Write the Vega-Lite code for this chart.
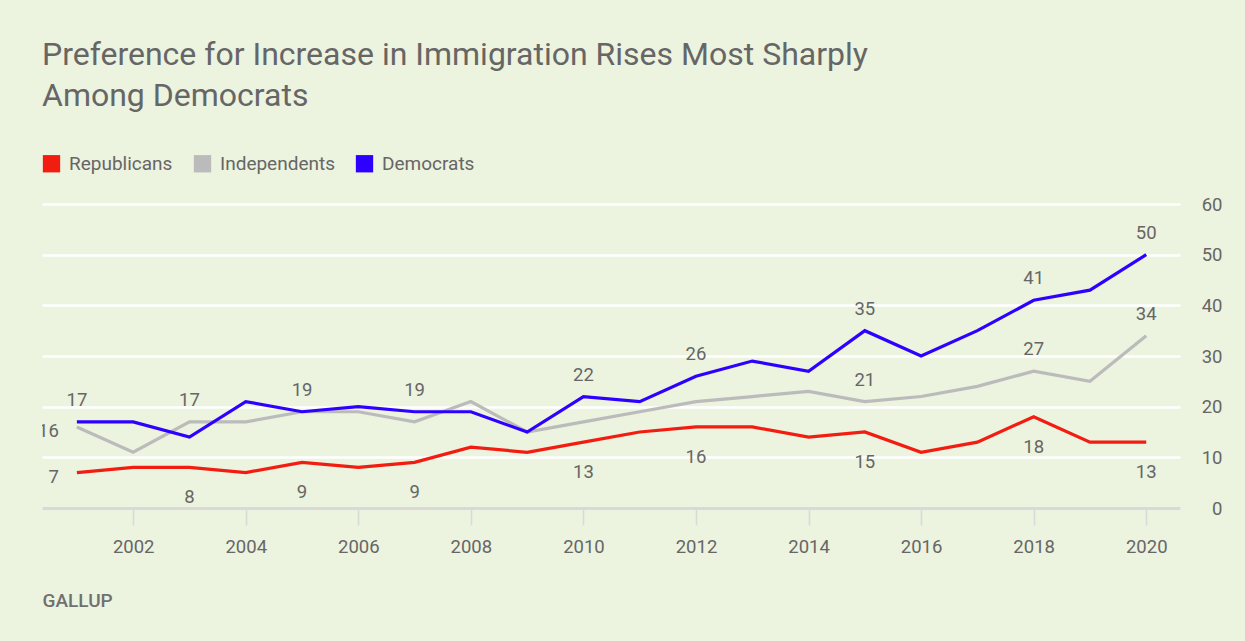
{
  "$schema": "https://vega.github.io/schema/vega-lite/v6.json",
  "autosize": {"type": "none"},
  "width": 1138,
  "height": 304,
  "padding": {"left": 42, "top": 204, "right": 65, "bottom": 133},
  "background": "#ECF3DF",
  "config": {
    "view": {"stroke": null},
    "font": "Roboto",
    "axis": {"labelFont": "Roboto", "labelColor": "#666666", "titleFont": "Roboto"},
    "legend": {"labelFont": "Roboto"}
  },
  "title": {
    "text": ["Preference for Increase in Immigration Rises Most Sharply", "Among Democrats"],
    "anchor": "start",
    "frame": "group",
    "fontSize": 32,
    "fontWeight": "normal",
    "color": "#666666",
    "lineHeight": 41,
    "offset": 41
  },
  "data": {
    "values": [
      {"year": 2001, "party": "Republicans", "pct": 7},
      {"year": 2002, "party": "Republicans", "pct": 8},
      {"year": 2003, "party": "Republicans", "pct": 8},
      {"year": 2004, "party": "Republicans", "pct": 7},
      {"year": 2005, "party": "Republicans", "pct": 9},
      {"year": 2006, "party": "Republicans", "pct": 8},
      {"year": 2007, "party": "Republicans", "pct": 9},
      {"year": 2008, "party": "Republicans", "pct": 12},
      {"year": 2009, "party": "Republicans", "pct": 11},
      {"year": 2010, "party": "Republicans", "pct": 13},
      {"year": 2011, "party": "Republicans", "pct": 15},
      {"year": 2012, "party": "Republicans", "pct": 16},
      {"year": 2013, "party": "Republicans", "pct": 16},
      {"year": 2014, "party": "Republicans", "pct": 14},
      {"year": 2015, "party": "Republicans", "pct": 15},
      {"year": 2016, "party": "Republicans", "pct": 11},
      {"year": 2017, "party": "Republicans", "pct": 13},
      {"year": 2018, "party": "Republicans", "pct": 18},
      {"year": 2019, "party": "Republicans", "pct": 13},
      {"year": 2020, "party": "Republicans", "pct": 13},
      {"year": 2001, "party": "Independents", "pct": 16},
      {"year": 2002, "party": "Independents", "pct": 11},
      {"year": 2003, "party": "Independents", "pct": 17},
      {"year": 2004, "party": "Independents", "pct": 17},
      {"year": 2005, "party": "Independents", "pct": 19},
      {"year": 2006, "party": "Independents", "pct": 19},
      {"year": 2007, "party": "Independents", "pct": 17},
      {"year": 2008, "party": "Independents", "pct": 21},
      {"year": 2009, "party": "Independents", "pct": 15},
      {"year": 2010, "party": "Independents", "pct": 17},
      {"year": 2011, "party": "Independents", "pct": 19},
      {"year": 2012, "party": "Independents", "pct": 21},
      {"year": 2013, "party": "Independents", "pct": 22},
      {"year": 2014, "party": "Independents", "pct": 23},
      {"year": 2015, "party": "Independents", "pct": 21},
      {"year": 2016, "party": "Independents", "pct": 22},
      {"year": 2017, "party": "Independents", "pct": 24},
      {"year": 2018, "party": "Independents", "pct": 27},
      {"year": 2019, "party": "Independents", "pct": 25},
      {"year": 2020, "party": "Independents", "pct": 34},
      {"year": 2001, "party": "Democrats", "pct": 17},
      {"year": 2002, "party": "Democrats", "pct": 17},
      {"year": 2003, "party": "Democrats", "pct": 14},
      {"year": 2004, "party": "Democrats", "pct": 21},
      {"year": 2005, "party": "Democrats", "pct": 19},
      {"year": 2006, "party": "Democrats", "pct": 20},
      {"year": 2007, "party": "Democrats", "pct": 19},
      {"year": 2008, "party": "Democrats", "pct": 19},
      {"year": 2009, "party": "Democrats", "pct": 15},
      {"year": 2010, "party": "Democrats", "pct": 22},
      {"year": 2011, "party": "Democrats", "pct": 21},
      {"year": 2012, "party": "Democrats", "pct": 26},
      {"year": 2013, "party": "Democrats", "pct": 29},
      {"year": 2014, "party": "Democrats", "pct": 27},
      {"year": 2015, "party": "Democrats", "pct": 35},
      {"year": 2016, "party": "Democrats", "pct": 30},
      {"year": 2017, "party": "Democrats", "pct": 35},
      {"year": 2018, "party": "Democrats", "pct": 41},
      {"year": 2019, "party": "Democrats", "pct": 43},
      {"year": 2020, "party": "Democrats", "pct": 50}
    ]
  },
  "encoding": {
    "x": {
      "field": "year",
      "type": "quantitative",
      "scale": {"domain": [2000.38, 2020.6], "nice": false, "zero": false},
      "axis": {
        "values": [2002, 2004, 2006, 2008, 2010, 2012, 2014, 2016, 2018, 2020],
        "format": "d",
        "grid": false,
        "domainColor": "#D9D9D9",
        "domainWidth": 3,
        "tickColor": "#D9D9D9",
        "tickWidth": 1.5,
        "tickSize": 17,
        "labelFontSize": 18.5,
        "labelPadding": 12,
        "zindex": 1,
        "title": "GALLUP",
        "titleAnchor": "start",
        "titleAlign": "left",
        "titleFontSize": 19,
        "titleFontWeight": 500,
        "titleColor": "#707070",
        "titlePadding": 36
      }
    },
    "y": {
      "field": "pct",
      "type": "quantitative",
      "scale": {"domain": [0, 60], "nice": false},
      "axis": {
        "orient": "right",
        "values": [0, 10, 20, 30, 40, 50, 60],
        "title": null,
        "domain": false,
        "ticks": false,
        "gridColor": "#FFFFFF",
        "gridWidth": 2.5,
        "labelAlign": "right",
        "labelBaseline": "middle",
        "labelPadding": 42,
        "labelFontSize": 18.5
      }
    },
    "color": {
      "field": "party",
      "type": "nominal",
      "scale": {
        "domain": ["Republicans", "Independents", "Democrats"],
        "range": ["#F21D10", "#BBBBBB", "#2E00FF"]
      },
      "legend": {
        "title": null,
        "orient": "top",
        "direction": "horizontal",
        "offset": 30,
        "symbolType": "square",
        "symbolSize": 300,
        "symbolStrokeWidth": 0,
        "labelFontSize": 19,
        "labelColor": "#666666",
        "labelOffset": 8,
        "columnPadding": 20,
        "encode": {
          "symbols": {
            "update": {
              "fill": {"scale": "color", "field": "value"},
              "stroke": {"value": "transparent"}
            }
          }
        }
      }
    }
  },
  "layer": [
    {
      "mark": {"type": "line", "strokeWidth": 3.2}
    },
    {
      "transform": [
        {"filter": {"field": "party", "equal": "Democrats"}},
        {"filter": {"field": "year", "oneOf": [2001, 2005, 2007, 2010, 2012, 2015, 2018, 2020]}}
      ],
      "mark": {"type": "text", "fontSize": 18.5, "baseline": "middle", "dy": -22},
      "encoding": {"text": {"field": "pct", "type": "quantitative"}, "color": {"value": "#666666"}}
    },
    {
      "transform": [
        {"filter": {"field": "party", "equal": "Republicans"}},
        {"filter": {"field": "year", "oneOf": [2003, 2005, 2007, 2010, 2012, 2015, 2018, 2020]}}
      ],
      "mark": {"type": "text", "fontSize": 18.5, "baseline": "middle", "dy": 30},
      "encoding": {"text": {"field": "pct", "type": "quantitative"}, "color": {"value": "#666666"}}
    },
    {
      "transform": [
        {"filter": {"field": "party", "equal": "Independents"}},
        {"filter": {"field": "year", "oneOf": [2003, 2015, 2018, 2020]}}
      ],
      "mark": {"type": "text", "fontSize": 18.5, "baseline": "middle", "dy": -22},
      "encoding": {"text": {"field": "pct", "type": "quantitative"}, "color": {"value": "#666666"}}
    },
    {
      "transform": [
        {"filter": {"field": "party", "oneOf": ["Independents", "Republicans"]}},
        {"filter": {"field": "year", "equal": 2001}}
      ],
      "mark": {"type": "text", "fontSize": 18.5, "baseline": "middle", "align": "right", "dx": -18, "dy": 4, "clip": true},
      "encoding": {"text": {"field": "pct", "type": "quantitative"}, "color": {"value": "#666666"}}
    }
  ]
}
